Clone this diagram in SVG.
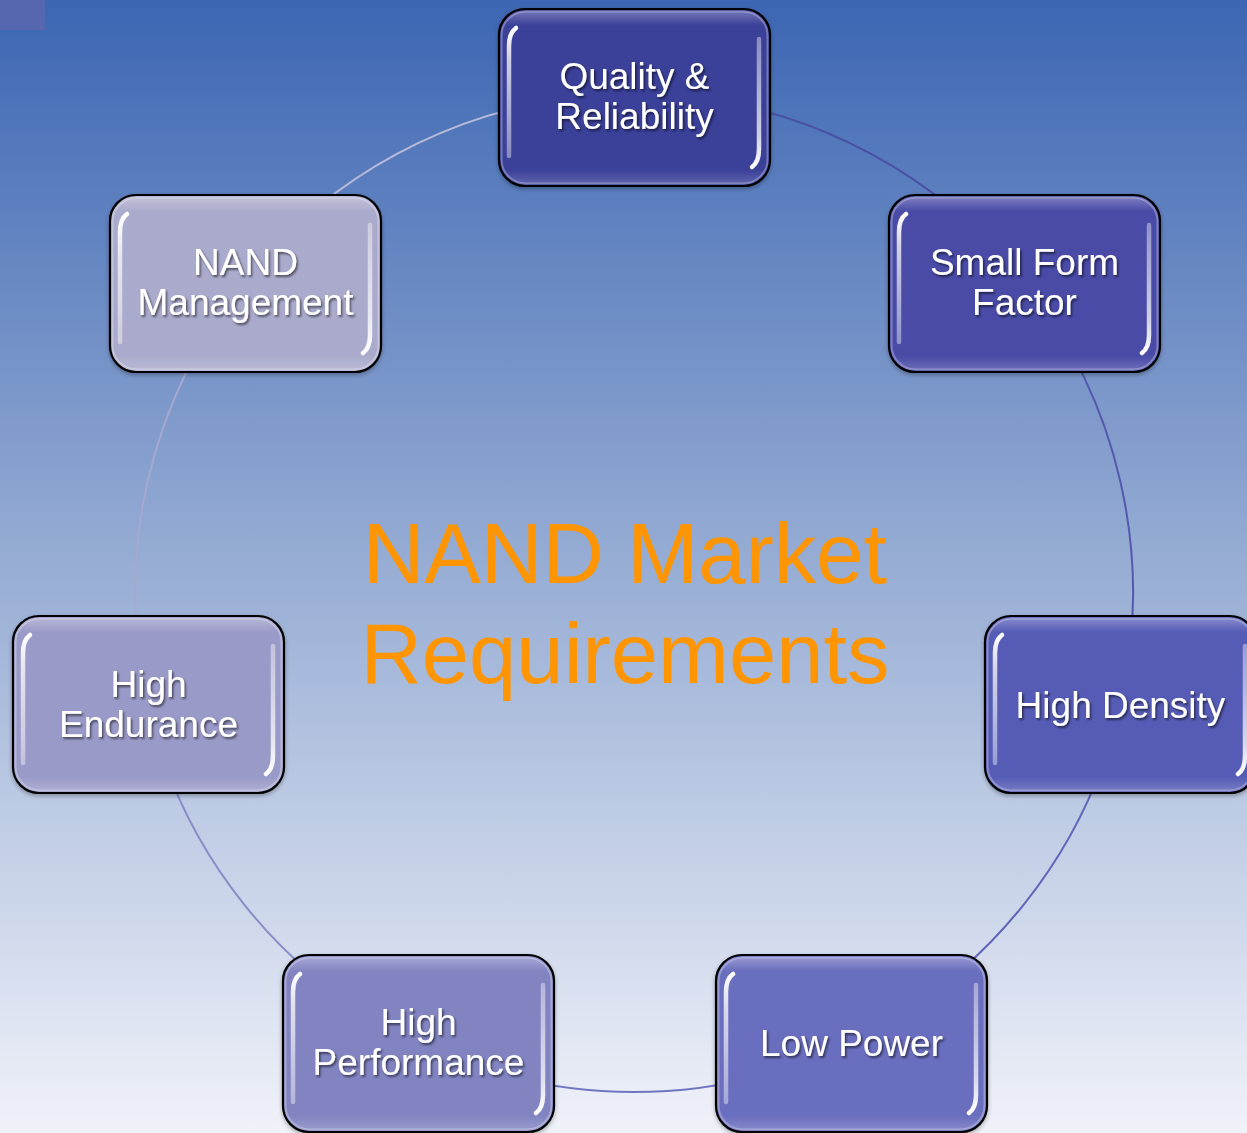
<svg xmlns="http://www.w3.org/2000/svg" width="1247" height="1133" viewBox="0 0 1247 1133">
  <defs>
    <linearGradient id="bg" x1="0" y1="0" x2="0" y2="1">
      <stop offset="0" stop-color="#3c66b3"/>
      <stop offset="0.5" stop-color="#97add4"/>
      <stop offset="1" stop-color="#f0f2f9"/>
    </linearGradient>
    <linearGradient id="hlTop" x1="0" y1="0" x2="0" y2="1">
      <stop offset="0" stop-color="#ffffff" stop-opacity="1"/>
      <stop offset="0.25" stop-color="#ffffff" stop-opacity="0.75"/>
      <stop offset="1" stop-color="#ffffff" stop-opacity="0.4"/>
    </linearGradient>
    <linearGradient id="hlBot" x1="0" y1="0" x2="0" y2="1">
      <stop offset="0" stop-color="#ffffff" stop-opacity="0.4"/>
      <stop offset="0.75" stop-color="#ffffff" stop-opacity="0.75"/>
      <stop offset="1" stop-color="#ffffff" stop-opacity="1"/>
    </linearGradient>
    <linearGradient id="sheen" x1="0" y1="0" x2="0" y2="1">
      <stop offset="0" stop-color="#ffffff" stop-opacity="0.28"/>
      <stop offset="0.08" stop-color="#ffffff" stop-opacity="0"/>
      <stop offset="0.92" stop-color="#ffffff" stop-opacity="0"/>
      <stop offset="1" stop-color="#ffffff" stop-opacity="0.18"/>
    </linearGradient>
    <filter id="ts" x="-10%" y="-30%" width="120%" height="160%">
      <feDropShadow dx="1.5" dy="2" stdDeviation="1" flood-color="#000000" flood-opacity="0.55"/>
    </filter>
    <filter id="bs" x="-5%" y="-5%" width="110%" height="115%">
      <feDropShadow dx="0" dy="2" stdDeviation="2" flood-color="#000000" flood-opacity="0.3"/>
    </filter>
    <filter id="glow" x="-100%" y="-10%" width="300%" height="120%">
      <feGaussianBlur stdDeviation="0.7"/>
    </filter>
  </defs>
  <style>
    .box { stroke: #000000; stroke-width: 2.2; filter: url(#bs); }
    .sheen { fill: url(#sheen); stroke: #ffffff; stroke-opacity: 0.3; stroke-width: 2; }
    .hl1 { fill: none; stroke: url(#hlTop); stroke-width: 4.5; stroke-linecap: round; filter: url(#glow); }
    .hl2 { fill: none; stroke: url(#hlBot); stroke-width: 4.5; stroke-linecap: round; filter: url(#glow); }
    .lbl { font-family: "Liberation Sans", Arial, sans-serif; font-size: 37px; fill: #ffffff; text-anchor: middle; filter: url(#ts); }
    .title { font-family: "Liberation Sans", Arial, sans-serif; font-size: 85px; fill: #ff9500; text-anchor: middle; }
    .arc { fill: none; stroke-width: 2; }
  </style>

  <rect x="0" y="0" width="1247" height="1133" fill="url(#bg)"/>
  <rect x="0" y="0" width="45" height="30" fill="#5c66ae" opacity="0.8"/>

  <g id="connectors">
    <path class="arc" stroke="#4a4fa4" d="M634,94 A499,499 0 0 1 1024.1,281.9"/>
    <path class="arc" stroke="#5558ae" d="M1024.1,281.9 A499,499 0 0 1 1120.5,704"/>
    <path class="arc" stroke="#6165b9" d="M1120.5,704 A499,499 0 0 1 850.5,1042.6"/>
    <path class="arc" stroke="#7175c0" d="M850.5,1042.6 A499,499 0 0 1 417.5,1042.6"/>
    <path class="arc" stroke="#8a8cc6" d="M417.5,1042.6 A499,499 0 0 1 147.5,704"/>
    <path class="arc" stroke="#a6a8cf" d="M147.5,704 A499,499 0 0 1 243.9,281.9"/>
    <path class="arc" stroke="#b7bad9" d="M243.9,281.9 A499,499 0 0 1 634,94"/>
  </g>

  <g id="title">
    <text class="title" x="625" y="583">NAND Market</text>
    <text class="title" x="625" y="683">Requirements</text>
  </g>

  <g id="node-quality">
    <rect class="box" x="499" y="9" width="271" height="177" rx="26" fill="#3b3f99"/>
    <rect class="sheen" x="501.5" y="11.5" width="266" height="172" rx="24"/>
    <path class="hl1" d="M516,28 Q509,33 509,46 L509,156"/>
    <path class="hl2" d="M759,39 L759,149 Q759,162 752,167"/>
    <text class="lbl" x="634.5" y="89">Quality &amp;</text>
    <text class="lbl" x="634.5" y="129">Reliability</text>
  </g>

  <g id="node-smallform">
    <rect class="box" x="889" y="195" width="271" height="177" rx="26" fill="#484ca7"/>
    <rect class="sheen" x="891.5" y="197.5" width="266" height="172" rx="24"/>
    <path class="hl1" d="M906,214 Q899,219 899,232 L899,342"/>
    <path class="hl2" d="M1149,225 L1149,335 Q1149,348 1142,353"/>
    <text class="lbl" x="1024.5" y="275">Small Form</text>
    <text class="lbl" x="1024.5" y="315">Factor</text>
  </g>

  <g id="node-highdensity">
    <rect class="box" x="985" y="616" width="271" height="177" rx="26" fill="#575bb6"/>
    <rect class="sheen" x="987.5" y="618.5" width="266" height="172" rx="24"/>
    <path class="hl1" d="M1002,635 Q995,640 995,653 L995,763"/>
    <path class="hl2" d="M1245,646 L1245,756 Q1245,769 1238,774"/>
    <text class="lbl" x="1120.5" y="718">High Density</text>
  </g>

  <g id="node-lowpower">
    <rect class="box" x="716" y="955" width="271" height="177" rx="26" fill="#6a6ebe"/>
    <rect class="sheen" x="718.5" y="957.5" width="266" height="172" rx="24"/>
    <path class="hl1" d="M733,974 Q726,979 726,992 L726,1102"/>
    <path class="hl2" d="M976,985 L976,1095 Q976,1108 969,1113"/>
    <text class="lbl" x="851.5" y="1056">Low Power</text>
  </g>

  <g id="node-highperformance">
    <rect class="box" x="283" y="955" width="271" height="177" rx="26" fill="#8284c2"/>
    <rect class="sheen" x="285.5" y="957.5" width="266" height="172" rx="24"/>
    <path class="hl1" d="M300,974 Q293,979 293,992 L293,1102"/>
    <path class="hl2" d="M543,985 L543,1095 Q543,1108 536,1113"/>
    <text class="lbl" x="418.5" y="1035">High</text>
    <text class="lbl" x="418.5" y="1075">Performance</text>
  </g>

  <g id="node-highendurance">
    <rect class="box" x="13" y="616" width="271" height="177" rx="26" fill="#9a9ac8"/>
    <rect class="sheen" x="15.5" y="618.5" width="266" height="172" rx="24"/>
    <path class="hl1" d="M30,635 Q23,640 23,653 L23,763"/>
    <path class="hl2" d="M273,646 L273,756 Q273,769 266,774"/>
    <text class="lbl" x="148.5" y="697">High</text>
    <text class="lbl" x="148.5" y="737">Endurance</text>
  </g>

  <g id="node-nandmgmt">
    <rect class="box" x="110" y="195" width="271" height="177" rx="26" fill="#aaaacc"/>
    <rect class="sheen" x="112.5" y="197.5" width="266" height="172" rx="24"/>
    <path class="hl1" d="M127,214 Q120,219 120,232 L120,342"/>
    <path class="hl2" d="M370,225 L370,335 Q370,348 363,353"/>
    <text class="lbl" x="245.5" y="275">NAND</text>
    <text class="lbl" x="245.5" y="315">Management</text>
  </g>
</svg>
